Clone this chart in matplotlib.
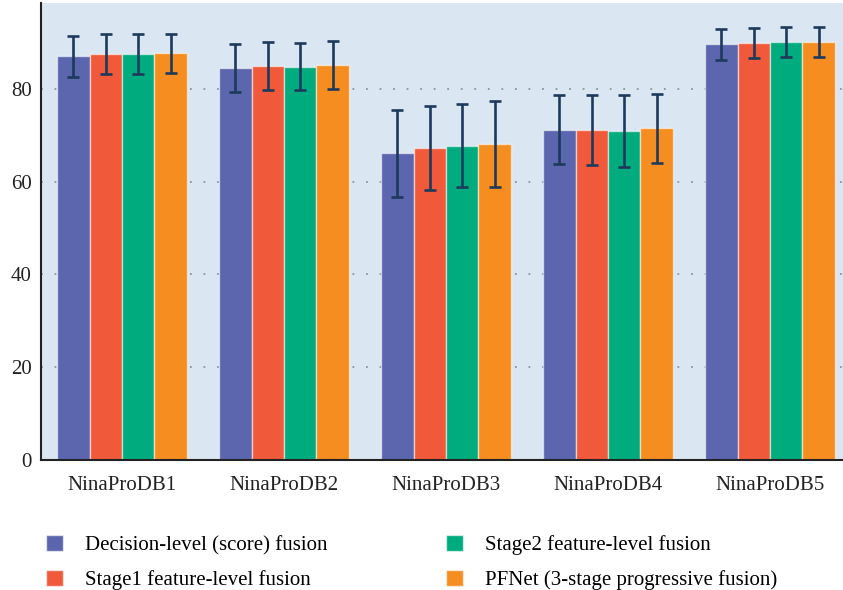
import matplotlib
matplotlib.use("Agg")
import matplotlib.pyplot as plt
import numpy as np
from matplotlib.patches import Patch

datasets = ["NinaProDB1", "NinaProDB2", "NinaProDB3", "NinaProDB4", "NinaProDB5"]
methods = [
    "Decision-level (score) fusion",
    "Stage1 feature-level fusion",
    "Stage2 feature-level fusion",
    "PFNet (3-stage progressive fusion)",
]
decision = [87.0, 84.5, 66.1, 71.2, 89.6]
decision_err = [4.35, 5.2, 9.35, 7.5, 3.3]
stage1 = [87.5, 85.0, 67.3, 71.15, 89.9]
stage1_err = [4.35, 5.15, 9.1, 7.5, 3.25]
stage2 = [87.5, 84.8, 67.7, 70.9, 90.1]
stage2_err = [4.25, 5.1, 8.95, 7.7, 3.3]
pfnet = [87.7, 85.2, 68.1, 71.5, 90.1]
pfnet_err = [4.2, 5.15, 9.2, 7.45, 3.25]
yticks = [0, 20, 40, 60, 80]

colors = ["#5c66ae", "#f05a3a", "#00ab7e", "#f68d20"]
series = [decision, stage1, stage2, pfnet]
errors = [decision_err, stage1_err, stage2_err, pfnet_err]

plt.rcParams["font.family"] = ["Liberation Serif", "DejaVu Serif"]

fig = plt.figure(figsize=(8.43, 5.90), dpi=100)
ax = fig.add_axes([41 / 843, 130 / 590, 810 / 843, 457 / 590])
ax.set_facecolor("#dae7f2")

x = np.arange(len(datasets))
width = 0.2
for i, (vals, errs, col) in enumerate(zip(series, errors, colors)):
    pos = x + (i - 1.5) * width
    ax.bar(pos, vals, width, color=col, edgecolor=(1, 1, 1, 0.55),
           linewidth=1.0, zorder=2, label=methods[i])
    ax.errorbar(pos, vals, yerr=errs, fmt="none", ecolor="#1d3a5c",
                elinewidth=1.9, capsize=4.5, capthick=1.9, zorder=3)

for yv in yticks[1:]:
    ax.axhline(yv, color="#8d949c", linestyle=(0, (1, 6.5)), linewidth=1.3, zorder=1)

ax.set_xlim(-0.5, 4.5)
ax.set_ylim(0, 98.5)
ax.set_yticks(yticks)
ax.set_xticks(x)
ax.set_xticklabels(datasets)
ax.tick_params(axis="both", length=0, labelsize=15, colors="#222222")
ax.tick_params(axis="x", pad=11.5)
ax.tick_params(axis="y", pad=6.5)
for s in ["top", "right"]:
    ax.spines[s].set_visible(False)
for s in ["left", "bottom"]:
    ax.spines[s].set_color("#222222")
    ax.spines[s].set_linewidth(1.5)

handles = [Patch(facecolor=c, edgecolor=(1, 1, 1, 0.6), linewidth=1.0) for c in colors]
fig.legend(handles, methods, loc="upper left", bbox_to_anchor=(46 / 843, 1 - 535 / 590),
           ncol=2, frameon=False, fontsize=15, handlelength=0.82, handleheight=0.77,
           handletextpad=1.05, columnspacing=5.7, labelspacing=0.72, borderpad=0,
           borderaxespad=0)

fig.savefig("out.png", dpi=100)
